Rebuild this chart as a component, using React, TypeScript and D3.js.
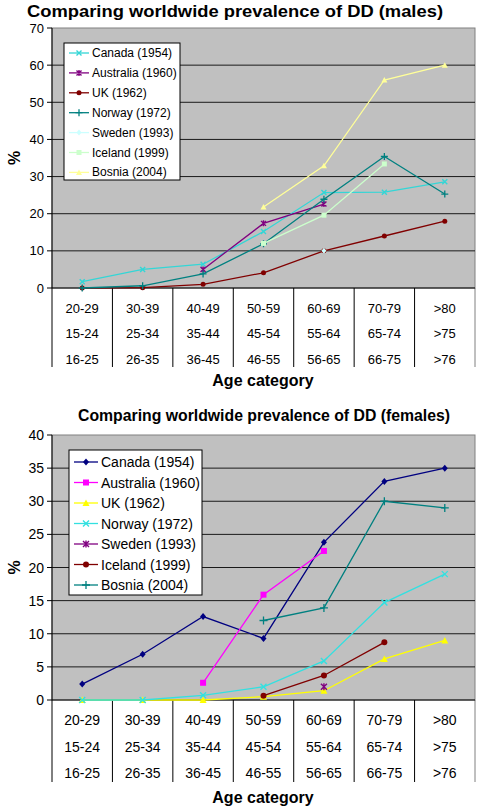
import React from "react";
import * as d3 from "d3";

const ageRow1 = ["20-29", "30-39", "40-49", "50-59", "60-69", "70-79", ">80"];
const ageRow2 = ["15-24", "25-34", "35-44", "45-54", "55-64", "65-74", ">75"];
const ageRow3 = ["16-25", "26-35", "36-45", "46-55", "56-65", "66-75", ">76"];

const maleTicks = [0, 10, 20, 30, 40, 50, 60, 70];
const femaleTicks = [0, 5, 10, 15, 20, 25, 30, 35, 40];

type V = number | null;
type Series = { name: string; values: V[]; color: string; marker: string };

const maleCanada: V[] = [1.7, 5.0, 6.4, 15.2, 25.7, 25.8, 28.6];
const maleAustralia: V[] = [null, null, 5.0, 17.4, 22.6, null, null];
const maleUK: V[] = [0, 0.1, 1.0, 4.1, 10, 14, 18];
const maleNorway: V[] = [0, 0.6, 3.8, 11.9, 23.9, 35.4, 25.3];
const maleSweden: V[] = [null, null, null, null, 10, null, null];
const maleIceland: V[] = [null, null, null, 12, 19.6, 33.4, null];
const maleBosnia: V[] = [null, null, null, 21.8, 32.9, 56, 60];

const femaleCanada: V[] = [2.4, 6.9, 12.6, 9.3, 23.8, 33, 35];
const femaleAustralia: V[] = [null, null, 2.6, 15.9, 22.5, null, null];
const femaleUK: V[] = [0, 0, 0, 0.5, 1.4, 6.2, 9];
const femaleNorway: V[] = [0, 0, 0.7, 2.0, 5.9, 14.7, 19];
const femaleSweden: V[] = [null, null, null, null, 2.0, null, null];
const femaleIceland: V[] = [null, null, null, 0.65, 3.7, 8.7, null];
const femaleBosnia: V[] = [null, null, null, 12, 13.9, 30, 29];

const maleSeries: Series[] = [
  { name: "Canada (1954)", values: maleCanada, color: "#33D6D6", marker: "x" },
  { name: "Australia (1960)", values: maleAustralia, color: "#800080", marker: "star" },
  { name: "UK (1962)", values: maleUK, color: "#800000", marker: "circle" },
  { name: "Norway (1972)", values: maleNorway, color: "#008080", marker: "plus" },
  { name: "Sweden (1993)", values: maleSweden, color: "#CCFFFF", marker: "diamond" },
  { name: "Iceland (1999)", values: maleIceland, color: "#CCFFCC", marker: "square" },
  { name: "Bosnia (2004)", values: maleBosnia, color: "#FFFF99", marker: "triangle" },
];

const femaleSeries: Series[] = [
  { name: "Canada (1954)", values: femaleCanada, color: "#000080", marker: "diamond" },
  { name: "Australia (1960)", values: femaleAustralia, color: "#FF00FF", marker: "square" },
  { name: "UK (1962)", values: femaleUK, color: "#FFFF00", marker: "triangle" },
  { name: "Norway (1972)", values: femaleNorway, color: "#33E0E0", marker: "x" },
  { name: "Sweden (1993)", values: femaleSweden, color: "#800080", marker: "star" },
  { name: "Iceland (1999)", values: femaleIceland, color: "#800000", marker: "circle" },
  { name: "Bosnia (2004)", values: femaleBosnia, color: "#008080", marker: "plus" },
];

const FONT = "'Liberation Sans', Arial, sans-serif";

function Marker({ type, x, y, color, s }: { type: string; x: number; y: number; color: string; s: number }) {
  const h = s / 2;
  switch (type) {
    case "x":
      return (
        <path d={`M${x - h},${y - h}L${x + h},${y + h}M${x - h},${y + h}L${x + h},${y - h}`} stroke={color} strokeWidth={1.4} fill="none" />
      );
    case "plus":
      return <path d={`M${x - h - 1},${y}L${x + h + 1},${y}M${x},${y - h - 1}L${x},${y + h + 1}`} stroke={color} strokeWidth={1.3} fill="none" />;
    case "star":
      return (
        <path
          d={`M${x - h},${y - h}L${x + h},${y + h}M${x - h},${y + h}L${x + h},${y - h}M${x},${y - h - 0.5}L${x},${y + h + 0.5}`}
          stroke={color}
          strokeWidth={1.4}
          fill="none"
        />
      );
    case "circle":
      return <circle cx={x} cy={y} r={h} fill={color} />;
    case "square":
      return <rect x={x - h} y={y - h} width={s} height={s} fill={color} />;
    case "diamond":
      return <path d={`M${x},${y - h - 0.5}L${x + h},${y}L${x},${y + h + 0.5}L${x - h},${y}Z`} fill={color} />;
    case "triangle":
      return <path d={`M${x},${y - h - 0.5}L${x + h + 0.5},${y + h}L${x - h - 0.5},${y + h}Z`} fill={color} />;
    default:
      return null;
  }
}

type ChartProps = {
  title: string;
  titleX: number;
  titleY: number;
  titleLen: number;
  top: number;
  bottom: number;
  yMax: number;
  ticks: number[];
  series: Series[];
  rowOffsets: number[];
  tableBottom: number;
  axisTitleY: number;
  labelFont: number;
  legend: { x: number; y: number; w: number; h: number; row0: number; step: number; font: number; lineLen: number };
  markerSize: number;
};

const LEFT = 52;
const RIGHT = 475;

function Chart(p: ChartProps) {
  const x = d3.scaleBand<string>().domain(ageRow1).range([LEFT, RIGHT]);
  const y = d3.scaleLinear().domain([0, p.yMax]).range([p.bottom, p.top]);
  const cx = (i: number) => (x(ageRow1[i]) as number) + x.bandwidth() / 2;
  const line = d3
    .line<V>()
    .defined((d) => d !== null)
    .x((_, i) => cx(i))
    .y((d) => y(d as number));
  const boundaries = d3.range(ageRow1.length + 1).map((i) => LEFT + i * x.bandwidth());
  const rows = [ageRow1, ageRow2, ageRow3];
  const L = p.legend;
  return (
    <g>
      <text
        x={p.titleX}
        y={p.titleY}
        textAnchor="middle"
        dominantBaseline="central"
        fontFamily={FONT}
        fontWeight="bold"
        fontSize={16}
        textLength={p.titleLen}
        lengthAdjust="spacingAndGlyphs"
      >
        {p.title}
      </text>
      <rect x={LEFT} y={p.top} width={RIGHT - LEFT} height={p.bottom - p.top} fill="#C0C0C0" stroke="#808080" strokeWidth={1} />
      {p.ticks.map((t) => (
        <g key={t}>
          {t > 0 && t < p.yMax && <line x1={LEFT} x2={RIGHT} y1={y(t)} y2={y(t)} stroke="#1a1a1a" strokeWidth={1} />}
          <line x1={LEFT - 5} x2={LEFT} y1={y(t)} y2={y(t)} stroke="#000" strokeWidth={1} />
          <text x={44} y={y(t)} textAnchor="end" dominantBaseline="central" fontFamily={FONT} fontSize={p.labelFont}>
            {t}
          </text>
        </g>
      ))}
      <line x1={LEFT} x2={LEFT} y1={p.top} y2={p.tableBottom} stroke="#000" strokeWidth={1} />
      {boundaries.slice(1).map((b, i) => (
        <line key={i} x1={b} x2={b} y1={p.bottom} y2={p.tableBottom} stroke={i === boundaries.length - 2 ? "#808080" : "#000"} strokeWidth={1} />
      ))}
      <line x1={LEFT} x2={RIGHT} y1={p.bottom} y2={p.bottom} stroke="#000" strokeWidth={1} />
      {rows.map((r, ri) =>
        r.map((lab, i) => (
          <text key={ri + "-" + i} x={cx(i)} y={p.bottom + p.rowOffsets[ri]} textAnchor="middle" dominantBaseline="central" fontFamily={FONT} fontSize={p.labelFont}>
            {lab}
          </text>
        ))
      )}
      <text x={263} y={p.axisTitleY} textAnchor="middle" dominantBaseline="central" fontFamily={FONT} fontWeight="bold" fontSize={16}>
        Age category
      </text>
      <text
        transform={`translate(14,${(p.top + p.bottom) / 2}) rotate(-90)`}
        textAnchor="middle"
        dominantBaseline="central"
        fontFamily={FONT}
        fontWeight="bold"
        fontSize={16}
      >
        %
      </text>
      {p.series.map((s) => (
        <g key={s.name}>
          <path d={line(s.values) || ""} fill="none" stroke={s.color} strokeWidth={1.3} />
          {s.values.map((v, i) =>
            v === null ? null : <Marker key={i} type={s.marker} x={cx(i)} y={y(v)} color={s.color} s={p.markerSize} />
          )}
        </g>
      ))}
      <rect x={L.x} y={L.y} width={L.w} height={L.h} fill="#fff" stroke="#000" strokeWidth={1} />
      {p.series.map((s, i) => {
        const ly = L.row0 + i * L.step;
        const lx = L.x + 5;
        return (
          <g key={s.name}>
            <line x1={lx} x2={lx + L.lineLen} y1={ly} y2={ly} stroke={s.color} strokeWidth={1.3} />
            <Marker type={s.marker} x={lx + L.lineLen / 2} y={ly} color={s.color} s={p.markerSize} />
            <text x={lx + L.lineLen + 3} y={ly} dominantBaseline="central" fontFamily={FONT} fontSize={L.font}>
              {s.name}
            </text>
          </g>
        );
      })}
    </g>
  );
}

export default function App() {
  return (
    <svg width={478} height={806} style={{ position: "absolute", left: 0, top: 0, background: "#fff" }}>
      <Chart
        title="Comparing worldwide prevalence of DD (males)"
        titleX={235}
        titleY={11}
        titleLen={416}
        top={28}
        bottom={288}
        yMax={70}
        ticks={maleTicks}
        series={maleSeries}
        rowOffsets={[20, 45, 71]}
        tableBottom={367}
        axisTitleY={380}
        labelFont={13}
        legend={{ x: 64, y: 43, w: 116, h: 137, row0: 53, step: 19.9, font: 12, lineLen: 20 }}
        markerSize={5}
      />
      <Chart
        title="Comparing worldwide prevalence of DD (females)"
        titleX={264}
        titleY={415}
        titleLen={372}
        top={435}
        bottom={700}
        yMax={40}
        ticks={femaleTicks}
        series={femaleSeries}
        rowOffsets={[20, 47, 73]}
        tableBottom={782}
        axisTitleY={797}
        labelFont={14}
        legend={{ x: 69, y: 450, w: 133, h: 145, row0: 462, step: 20.5, font: 14, lineLen: 24 }}
        markerSize={6}
      />
    </svg>
  );
}
